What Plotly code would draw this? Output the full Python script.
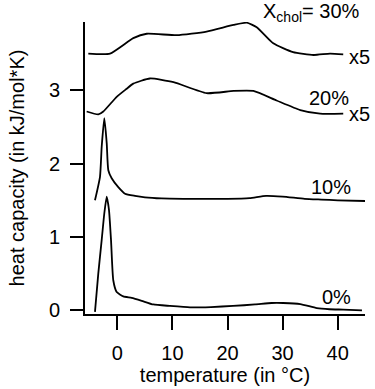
import plotly.graph_objects as go

# ---- data (temperature in °C, heat capacity in kJ/mol*K, curves offset as in figure) ----
t_0 = [-4.05, -3.45, -2.83, -2.36, -1.92, -1.51, -1.14, -0.73, -0.11, 1.09, 2.61, 4.43, 6.53,
       9.5, 13.2, 17.0, 21.0, 25.0, 28.0, 30.1, 33.2, 36.2, 38.5, 41.0, 44.4]
cp_0 = [-0.02, 0.50, 0.96, 1.32, 1.55, 1.37, 0.96, 0.41, 0.25, 0.19, 0.17, 0.13, 0.08,
        0.06, 0.04, 0.045, 0.06, 0.08, 0.10, 0.10, 0.086, 0.03, 0.015, 0.01, 0.0]

t_10 = [-4.05, -3.14, -2.83, -2.36, -1.92, -1.63, -1.02, 0.18, 1.40, 3.21, 5.03, 8.0,
        12.0, 16.0, 20.0, 24.0, 27.0, 30.0, 34.0, 37.0, 40.0, 45.0]
cp_10 = [1.50, 1.82, 2.23, 2.62, 2.28, 1.91, 1.80, 1.68, 1.59, 1.56, 1.54, 1.525,
         1.52, 1.52, 1.52, 1.53, 1.56, 1.55, 1.52, 1.51, 1.50, 1.49]

t_20 = [-5.56, -3.45, -2.54, -0.11, 1.7, 2.9, 5.93, 10.2, 16.2, 21.1, 24.7, 28.9, 33.2, 36.8, 41.0]
cp_20 = [2.71, 2.67, 2.71, 2.91, 3.02, 3.09, 3.16, 3.11, 2.96, 2.99, 2.99, 2.86, 2.73, 2.68, 2.68]

t_30 = [-5.26, -1.32, 2.9, 5.34, 10.8, 16.2, 21.1, 23.5, 25.3, 28.3, 31.9, 35.6, 38.6, 41.0]
cp_30 = [3.50, 3.50, 3.71, 3.77, 3.75, 3.80, 3.89, 3.92, 3.86, 3.64, 3.52, 3.48, 3.50, 3.49]

x_ticks = [0, 10, 20, 30, 40]
y_ticks = [0, 1, 2, 3]
labels = ["0%", "10%", "20%", "X<sub>chol</sub>= 30%"]

FONT = "Liberation Sans"

fig = go.Figure()
for t, cp in [(t_0, cp_0), (t_10, cp_10), (t_20, cp_20), (t_30, cp_30)]:
    fig.add_trace(go.Scatter(x=t, y=cp, mode="lines",
                             line=dict(color="black", width=1.8, shape="spline", smoothing=0.5),
                             showlegend=False, hoverinfo="skip"))

ann = dict(showarrow=False, font=dict(family=FONT, size=20, color="black"))
fig.add_annotation(x=39.7, y=0.18, xref="x", yref="y", text=labels[0], **ann)
fig.add_annotation(x=38.8, y=1.68, xref="x", yref="y", text=labels[1], **ann)
fig.add_annotation(x=38.4, y=2.89, xref="x", yref="y", text=labels[2], **ann)
fig.add_annotation(x=41.7, y=2.67, xref="x", yref="y", text="x5", xanchor="left", **ann)
fig.add_annotation(x=41.7, y=3.45, xref="x", yref="y", text="x5", xanchor="left", **ann)
fig.add_annotation(x=(261 - 85) / 280, y=(314 + 2) / 292, xref="paper", yref="paper",
                   xanchor="left", yanchor="top", text=labels[3], **ann)

title_font = dict(family=FONT, size=20, color="black")
fig.update_layout(
    width=375, height=389,
    margin=dict(l=85, r=10, t=22, b=75),
    paper_bgcolor="white", plot_bgcolor="white",
    font=dict(family=FONT, size=20, color="black"),
    xaxis=dict(range=[-5.86, 44.95], tickvals=x_ticks, showgrid=False, zeroline=False,
               showline=True, linecolor="black", linewidth=2, automargin=False,
               ticks="outside", ticklen=14, tickwidth=2, tickcolor="black",
               ticklabelstandoff=6,
               title=dict(text="temperature (in °C)", standoff=0, font=title_font)),
    yaxis=dict(range=[-0.05, 3.93], tickvals=y_ticks, showgrid=False, zeroline=False,
               showline=True, linecolor="black", linewidth=2, automargin=False,
               ticks="outside", ticklen=13, tickwidth=2, tickcolor="black",
               ticklabelstandoff=6,
               title=dict(text="heat capacity (in kJ/mol*K)", standoff=19, font=title_font)),
)

fig.write_html("out.html", config={"displayModeBar": False},
               post_script="document.body.style.margin='0';document.body.style.padding='0';")
